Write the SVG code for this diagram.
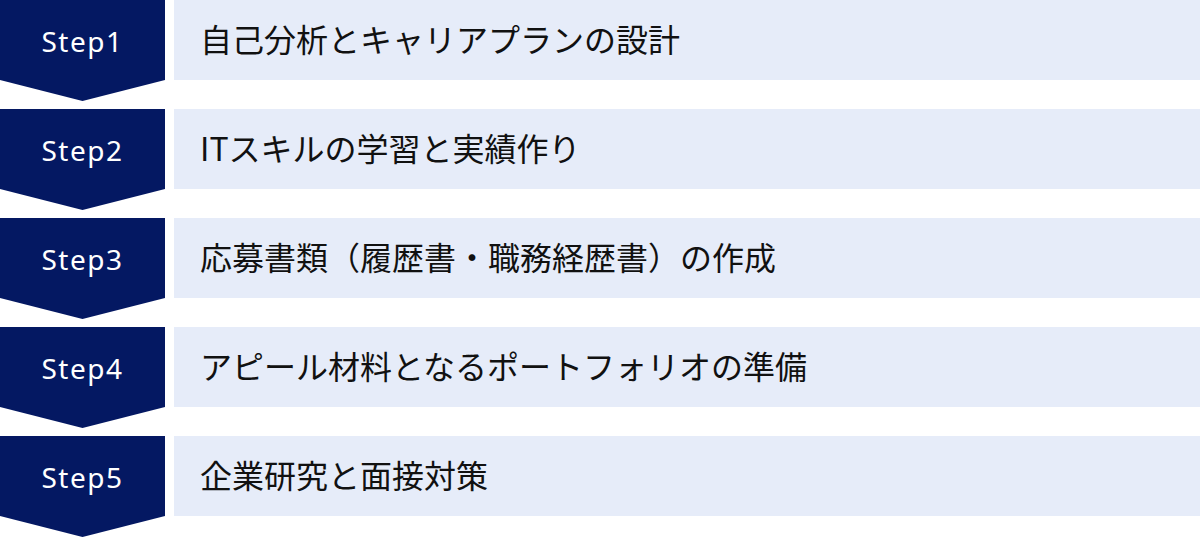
<svg xmlns="http://www.w3.org/2000/svg" width="1200" height="538" viewBox="0 0 1200 538">
<defs>
<style>
.chev{fill:#041862;}
.box{fill:#E6ECF9;}
.step{font-family:"Noto Sans","DejaVu Sans",sans-serif;font-size:28px;letter-spacing:1.5px;fill:#FFFFFF;text-anchor:middle;}
.label{font-family:"Noto Sans CJK JP","Noto Sans",sans-serif;font-size:32px;fill:#111111;}
</style>
</defs>
<rect width="1200" height="538" fill="#FFFFFF"/>
<g id="step1">
<polygon class="chev" points="0,0 165,0 165,80 82.5,101 0,80"/>
<rect class="box" x="174" y="0" width="1026" height="80"/>
<text class="step" x="82.5" y="52">Step1</text>
<text class="label" x="200" y="52">自己分析とキャリアプランの設計</text>
</g>
<g id="step2">
<polygon class="chev" points="0,109 165,109 165,189 82.5,210 0,189"/>
<rect class="box" x="174" y="109" width="1026" height="80"/>
<text class="step" x="82.5" y="161">Step2</text>
<text class="label" x="200" y="161">ITスキルの学習と実績作り</text>
</g>
<g id="step3">
<polygon class="chev" points="0,218 165,218 165,298 82.5,319 0,298"/>
<rect class="box" x="174" y="218" width="1026" height="80"/>
<text class="step" x="82.5" y="270">Step3</text>
<text class="label" x="200" y="270">応募書類（履歴書・職務経歴書）の作成</text>
</g>
<g id="step4">
<polygon class="chev" points="0,327 165,327 165,407 82.5,428 0,407"/>
<rect class="box" x="174" y="327" width="1026" height="80"/>
<text class="step" x="82.5" y="379">Step4</text>
<text class="label" x="200" y="379">アピール材料となるポートフォリオの準備</text>
</g>
<g id="step5">
<polygon class="chev" points="0,436 165,436 165,516 82.5,537 0,516"/>
<rect class="box" x="174" y="436" width="1026" height="80"/>
<text class="step" x="82.5" y="488">Step5</text>
<text class="label" x="200" y="488">企業研究と面接対策</text>
</g>
<g id="connectors"></g>
</svg>
